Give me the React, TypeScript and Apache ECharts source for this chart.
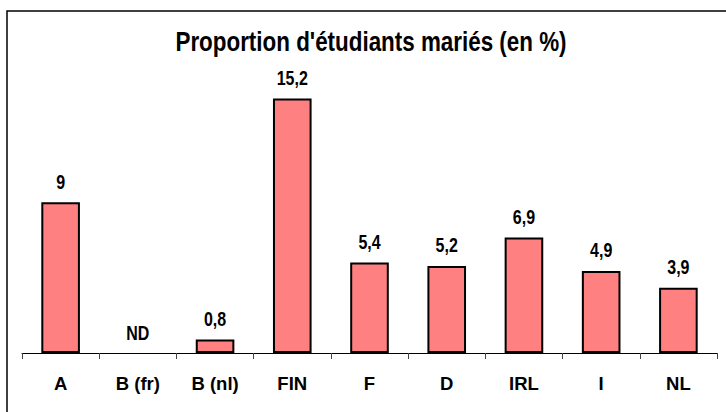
import React, { useEffect, useRef } from "react";
import * as echarts from "echarts";

const categories = ["A", "B (fr)", "B (nl)", "FIN", "F", "D", "IRL", "I", "NL"];
const values: (number | null)[] = [9, null, 0.8, 15.2, 5.4, 5.2, 6.9, 4.9, 3.9];
const labelTexts = ["9", "ND", "0,8", "15,2", "5,4", "5,2", "6,9", "4,9", "3,9"];
const titleText = "Proportion d'étudiants mariés (en %)";

export default function App() {
  const ref = useRef<HTMLDivElement>(null);
  useEffect(() => {
    if (!ref.current) return;
    const chart = echarts.init(ref.current, null, { renderer: "svg" });
    const font = "'Liberation Sans', Arial, sans-serif";
    chart.setOption({
      animation: false,
      backgroundColor: "#ffffff",
      graphic: [
        {
          type: "rect",
          shape: { x: 7, y: 11, width: 740, height: 420 },
          style: { fill: "none", stroke: "#000", lineWidth: 1.5 },
          silent: true,
        },
        {
          type: "text",
          x: 371,
          y: 42,
          scaleX: 0.83,
          silent: true,
          style: {
            text: titleText,
            fontFamily: font,
            fontWeight: "bold",
            fontSize: 27,
            fill: "#000",
            align: "center",
            verticalAlign: "middle",
          },
        },
      ],
      grid: { left: 22, right: 9, top: 85, bottom: 412 - 353, containLabel: false },
      xAxis: {
        type: "category",
        data: categories,
        axisLine: { lineStyle: { color: "#000", width: 1 } },
        axisTick: { show: true, length: 6, lineStyle: { color: "#444" } },
        axisLabel: {
          margin: 21,
          fontFamily: font,
          fontWeight: "bold",
          fontSize: 18.5,
          color: "#000",
        },
      },
      yAxis: {
        type: "value",
        min: 0,
        max: 16,
        show: false,
        splitLine: { show: false },
      },
      series: [
        {
          type: "bar",
          barWidth: "50%",
          data: values.map((v) =>
            v === null
              ? { value: 0, itemStyle: { borderWidth: 0, color: "transparent" } }
              : { value: v }
          ),
          itemStyle: { color: "#FF8080", borderColor: "#000", borderWidth: 2 },
        },
        {
          type: "custom",
          z: 10,
          silent: true,
          data: values.map((v, i) => [i, v === null ? 0 : v]),
          renderItem: (params: any, api: any) => {
            const pt = api.coord([api.value(0), api.value(1)]);
            return {
              type: "text",
              x: pt[0],
              y: pt[1] - 20,
              scaleX: 0.82,
              style: {
                text: labelTexts[params.dataIndex],
                fontFamily: font,
                fontWeight: "bold",
                fontSize: 19.5,
                fill: "#000",
                align: "center",
                verticalAlign: "middle",
              },
            };
          },
        },
      ],
    });
    return () => chart.dispose();
  }, []);
  return (
    <div
      ref={ref}
      style={{ position: "fixed", left: 0, top: 0, width: 726, height: 412 }}
    />
  );
}
